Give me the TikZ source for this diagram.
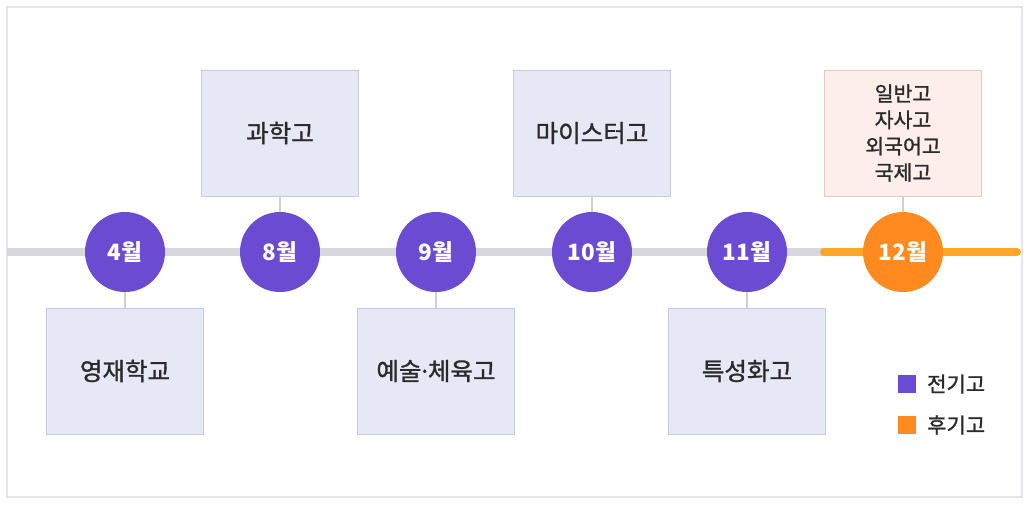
\documentclass[tikz,border=0pt]{standalone}
\usepackage{fontspec}
\setmainfont{Noto Sans CJK KR}
\newfontfamily\medfont[FakeBold=1.2]{Noto Sans CJK KR}
\begin{document}
\begin{tikzpicture}[x=1pt,y=-1pt,
  month/.style={circle,minimum size=80pt,inner sep=0pt,text=white,font=\fontsize{22.5}{26}\selectfont\bfseries},
  pmonth/.style={month,fill=mpurple},
  omonth/.style={month,fill=morange},
  school/.style={rectangle,minimum width=157pt,minimum height=126pt,inner sep=0pt,fill=boxfill,draw=boxline,line width=1pt,text=textc,font=\fontsize{24.5}{28}\medfont,align=center},
  lateschool/.style={school,fill=pinkfill,draw=pinkline,font=\fontsize{20.5}{26.3}\medfont},
  link/.style={draw=linkc,line width=1.5pt},
  legsq/.style={rectangle,minimum size=18pt,inner sep=0pt},
  legtx/.style={anchor=west,text=textc,font=\fontsize{21}{24}\medfont,inner sep=0pt}]
\definecolor{mpurple}{HTML}{6A4BD2}
\definecolor{morange}{HTML}{FF8A20}
\definecolor{lorange}{HTML}{FFA626}
\definecolor{tgray}{HTML}{D7D7DD}
\definecolor{boxfill}{HTML}{E6E8F5}
\definecolor{boxline}{HTML}{C6C9E6}
\definecolor{pinkfill}{HTML}{FDEEEA}
\definecolor{pinkline}{HTML}{E2CABF}
\definecolor{linkc}{HTML}{CFCFD4}
\definecolor{textc}{HTML}{2A2A2A}
\definecolor{framec}{HTML}{E4E4F0}
\useasboundingbox (0,0) rectangle (1030,507);
\fill[white] (0,0) rectangle (1030,507);
\draw[framec,line width=1.5pt] (7,7) rectangle (1022,497);
% timeline
\coordinate (tl) at (7,252);
\coordinate (tm) at (824,252);
\coordinate (tr) at (1017,252);
\draw[tgray,line width=8pt] (tl) -- (tm);
\draw[lorange,line width=8pt,line cap=round] (tm) -- (tr);
% boxes
\node[school] (gw) at (280,133) {과학고};
\node[school] (ms) at (592,133) {마이스터고};
\node[lateschool] (ib) at (903,133) {일반고\\자사고\\외국어고\\국제고};
\node[school] (yj) at (125,371) {영재학교};
\node[school] (ys) at (436,371) {예술\kern-0.15em·\kern-0.15em체육고};
\node[school] (ts) at (747,371) {특성화고};
% months
\node[pmonth] (m4) at (125,252) {4월};
\node[pmonth] (m8) at (280,252) {8월};
\node[pmonth] (m9) at (436,252) {9월};
\node[pmonth] (m10) at (592,252) {10월};
\node[pmonth] (m11) at (747,252) {11월};
\node[omonth] (m12) at (903,252) {12월};
% links
\draw[link] (gw.south) -- (m8.north);
\draw[link] (ms.south) -- (m10.north);
\draw[link] (ib.south) -- (m12.north);
\draw[link] (m4.south) -- (yj.north);
\draw[link] (m9.south) -- (ys.north);
\draw[link] (m11.south) -- (ts.north);
% legend
\node[legsq,fill=mpurple] (lp) at (907,384) {};
\node[legtx] (lpt) at (927,384) {전기고};
\node[legsq,fill=morange] (lo) at (907,425) {};
\node[legtx] (lot) at (927,425) {후기고};
\end{tikzpicture}
\end{document}
